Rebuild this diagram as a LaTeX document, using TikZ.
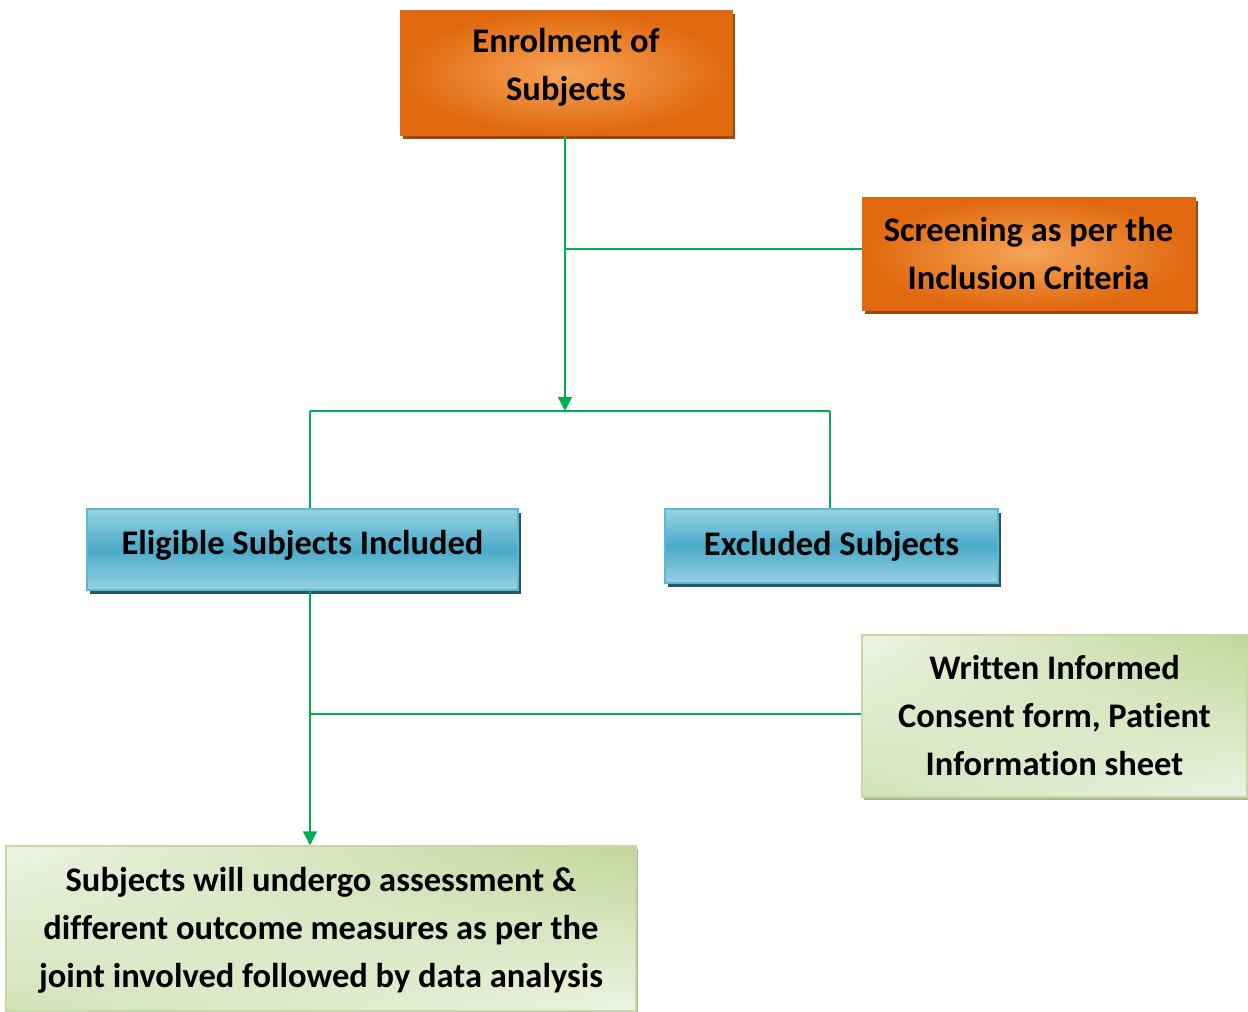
\documentclass[tikz,border=0pt]{standalone}
\usepackage{fontspec}
\setmainfont[Ligatures=NoCommon]{Carlito}
\usetikzlibrary{arrows.meta,shadows,shadings}
\definecolor{lnk}{HTML}{00B050}
\definecolor{orOut}{HTML}{E0680E}
\definecolor{orIn}{HTML}{F6A457}
\definecolor{orShadow}{HTML}{9A4A0C}
\definecolor{orEdge}{HTML}{D86A18}
\definecolor{blLight}{HTML}{98D2E4}
\definecolor{blMid}{HTML}{4AAAC8}
\definecolor{blShadow}{HTML}{24566A}
\definecolor{blEdge}{HTML}{5EB8D0}
\definecolor{grDark}{HTML}{C2D69A}
\definecolor{grLight}{HTML}{EDF3E2}
\definecolor{grMid}{HTML}{D3E2B8}
\definecolor{grShadow}{HTML}{A8B890}
\definecolor{grEdge}{HTML}{C6D8A6}
\tikzset{
  every node/.style={inner sep=0pt},
  txt/.style={font=\fontsize{34.5}{48}\selectfont\bfseries, align=center},
  orbox/.style={shading=radial, inner color=orIn, outer color=orOut, draw=orEdge, line width=1pt,
    general shadow={fill=orShadow, shadow xshift=3pt, shadow yshift=-4pt}},
  blbox/.style={top color=blLight, bottom color=blLight, middle color=blMid, draw=blEdge, line width=1.5pt,
    general shadow={fill=blShadow, shadow xshift=3pt, shadow yshift=-4pt}},
  grbox/.style={upper left=grLight, lower right=grLight, upper right=grDark, lower left=grMid, draw=grEdge, line width=1.5pt,
    general shadow={fill=grShadow, shadow xshift=2pt, shadow yshift=-3pt}},
  conn/.style={draw=lnk, line width=1.6pt},
  arr/.style={conn, -{Triangle[length=14pt,width=14pt]}},
}
\begin{document}
\begin{tikzpicture}[x=1pt,y=-1pt]
\useasboundingbox (0,0) rectangle (1248,1012);
\node[orbox, minimum width=332pt, minimum height=125pt] (enrol) at (566,72.5) {};
\node[txt] (enrolT) at ([yshift=5pt]enrol.center) {Enrolment of\\Subjects};
\node[orbox, minimum width=333pt, minimum height=113pt] (screen) at (1028.5,253.5) {};
\node[txt] (screenT) at (screen.center) {Screening as per the\\Inclusion Criteria};
\node[blbox, minimum width=431pt, minimum height=81pt] (elig) at (302.5,549.5) {};
\node[txt] (eligT) at ([yshift=4pt]elig.center) {Eligible Subjects Included};
\node[blbox, minimum width=333pt, minimum height=74pt] (excl) at (831.5,546) {};
\node[txt] (exclT) at (excl.center) {Excluded Subjects};
\node[grbox, minimum width=385pt, minimum height=162pt] (consent) at (1054.5,716) {};
\node[txt] (consentT) at (consent.center) {Written Informed\\Consent form, Patient\\Information sheet};
\node[grbox, minimum width=630pt, minimum height=165pt] (assess) at (321,928.5) {};
\node[txt] (assessT) at ([yshift=-2pt]assess.center) {Subjects will undergo assessment \&\\different outcome measures as per the\\joint involved followed by data analysis};
\coordinate (split) at (565,411);
\coordinate (sl) at (310,411);
\coordinate (sr) at (830,411);
\coordinate (j1) at (565,249);
\coordinate (j2) at (310,714);
\draw[arr] (enrol.south -| split) -- (split);
\draw[conn] (screen.west |- j1) -- (j1);
\draw[conn] (sl) -- (sr);
\draw[conn] (sl) -- (elig.north -| sl);
\draw[conn] (sr) -- (excl.north -| sr);
\draw[arr] (elig.south -| sl) -- (assess.north -| sl);
\draw[conn] (consent.west |- j2) -- (j2);
\end{tikzpicture}
\end{document}
